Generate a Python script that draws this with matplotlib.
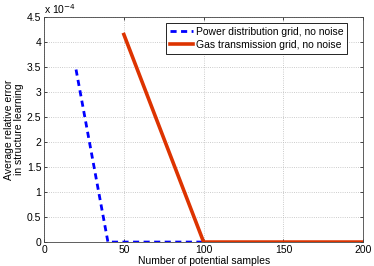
import matplotlib
matplotlib.use("Agg")
import matplotlib.pyplot as plt

power_x = [20, 40, 60, 80, 100]
power_y = [3.45, 0.0, 0.0, 0.0, 0.0]
gas_x = [50, 100, 150, 200]
gas_y = [4.15, 0.0, 0.0, 0.0]
xticks = [0, 50, 100, 150, 200]
yticks = [0, 0.5, 1, 1.5, 2, 2.5, 3, 3.5, 4, 4.5]
ytick_labels = ["0", "0.5", "1", "1.5", "2", "2.5", "3", "3.5", "4", "4.5"]

plt.rcParams['font.family'] = ['Liberation Sans', 'DejaVu Sans']
fig = plt.figure(figsize=(3.74, 2.66), dpi=100)
ax = fig.add_axes([0.118, 0.09, 0.853, 0.846])

ax.plot(power_x, power_y, color='#0000ff', linestyle=(0, (2.2, 1.6)), linewidth=2.0,
        label='Power distribution grid, no noise')
ax.plot(gas_x, gas_y, color='#dd3300', linewidth=2.6, label='Gas transmission grid, no noise')

ax.set_xlim(0, 200)
ax.set_ylim(0, 4.5)
ax.set_xticks(xticks)
ax.set_yticks(yticks)
ax.set_yticklabels(ytick_labels)
ax.tick_params(labelsize=7.5, direction='in', length=2.5, top=True, right=True, width=0.5, pad=2)
ax.grid(True, linestyle=':', color='#bbbbbb', linewidth=0.6)
for s in ax.spines.values():
    s.set_linewidth(0.6)
    s.set_color('#444444')

ax.set_xlabel('Number of potential samples', fontsize=7.5, labelpad=1)
ax.set_ylabel('Average relative error\nin structure learning', fontsize=7.5, labelpad=2, linespacing=1.0)
ax.text(0.0, 1.005, r'x 10$^{-4}$', transform=ax.transAxes, fontsize=7.5, ha='left', va='bottom')

leg = ax.legend(loc='upper right', bbox_to_anchor=(0.95, 0.973), fontsize=7.5, fancybox=False,
                framealpha=1, edgecolor='black', handlelength=2.2, borderpad=0.35,
                labelspacing=0.3, handletextpad=0.3, borderaxespad=0)
leg.get_frame().set_linewidth(0.6)

fig.savefig('out.png', dpi=100)
